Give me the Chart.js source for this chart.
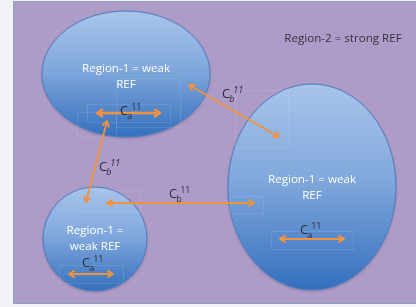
<!DOCTYPE html>
<html>
<head>
<meta charset="utf-8">
<script src="https://cdn.jsdelivr.net/npm/chart.js@4.4.1/dist/chart.umd.min.js"></script>
<style>
	html, body { margin: 0; padding: 0; background: #f1f2f5; }
	#wrap { width: 416px; height: 307px; position: relative; }
</style>
</head>
<body>
<div id="wrap"><canvas id="c"></canvas></div>
<script>
// diagram coordinates: x 0..416, y 0..307 (top-down)
const regionLines = [['Region-1 = weak', 'REF'], ['Region-1 = weak', 'REF'], ['Region-1 =', 'weak REF']];
const regionX = [126, 312, 95];
const regionY = [74, 187, 239];
const regionRx = [84, 84, 52];
const regionRy = [63, 103, 52];
const regionTextY = [69, 180, 231];

const arrowFrom = [[189, 85], [107, 121], [107, 203], [97, 113], [280, 239], [69, 274]];
const arrowTo = [[279, 137], [86, 202], [254, 203], [160, 113], [344, 239], [113, 274]];

const labelSub = ['b', 'b', 'b', 'a', 'a', 'a'];
const labelSup = ['11', '11', '11', '11', '11', '11'];
const labelItalic = [true, true, false, false, false, false];
const labelX = [222, 99, 169, 120, 300, 82];
const labelY = [94, 167, 194, 111, 230, 263];

// faint text-box outlines left over in the slide
const boxes = [[87, 104, 170, 122], [77, 112, 116, 137], [116, 78, 180, 127], [235, 90, 288, 147],
	[230, 196, 263, 213], [271, 231, 353, 249], [77, 190, 140, 212], [59, 265, 123, 283]];

const title = 'Region-2 = strong REF';
const titleX = 343, titleY = 39;

const ORANGE = '#f2923c';
const FONT = '"Open Sans", "Noto Sans", sans-serif';

const diagram = {
	id: 'diagram',
	beforeDatasetsDraw(chart) {
		const { ctx, scales: { x, y } } = chart;
		const px = v => x.getPixelForValue(v), py = v => y.getPixelForValue(v);
		ctx.save();
		// purple slide panel
		ctx.fillStyle = '#ad9cc7';
		ctx.fillRect(px(13.5), py(1.5), px(416) - px(13.5), py(303.5) - py(1.5));
		ctx.strokeStyle = '#8d9fc6';
		ctx.lineWidth = 1;
		ctx.strokeRect(px(13.5), py(1.5), px(417) - px(13.5), py(303.5) - py(1.5));
		// regions
		regionX.forEach((cx, i) => {
			const top = py(regionY[i] - regionRy[i]), bot = py(regionY[i] + regionRy[i]);
			const g = ctx.createLinearGradient(0, top, 0, bot);
			g.addColorStop(0, '#a8c4ea');
			g.addColorStop(0.45, '#82a9dd');
			g.addColorStop(1, '#3470bd');
			ctx.beginPath();
			ctx.ellipse(px(cx), py(regionY[i]), px(regionRx[i]) - px(0), py(regionRy[i]) - py(0), 0, 0, Math.PI * 2);
			ctx.shadowColor = 'rgba(40,30,80,0.35)';
			ctx.shadowBlur = 3;
			ctx.shadowOffsetY = 1;
			ctx.fillStyle = g;
			ctx.fill();
			ctx.shadowColor = 'transparent';
			ctx.strokeStyle = '#4f7fc0';
			ctx.lineWidth = 1;
			ctx.stroke();
		});
		// faint boxes
		ctx.strokeStyle = 'rgba(225,230,245,0.13)';
		ctx.lineWidth = 1;
		boxes.forEach(b => ctx.strokeRect(px(b[0]) + 0.5, py(b[1]) + 0.5, px(b[2]) - px(b[0]), py(b[3]) - py(b[1])));
		// region texts
		ctx.fillStyle = '#ffffff';
		ctx.textAlign = 'center';
		ctx.textBaseline = 'middle';
		ctx.font = `11.6px ${FONT}`;
		regionLines.forEach((lines, i) => {
			lines.forEach((t, j) => ctx.fillText(t, px(regionX[i]), py(regionTextY[i] + j * 16)));
		});
		ctx.fillStyle = '#333340';
		ctx.fillText(title, px(titleX), py(titleY));
		ctx.restore();
	},
	afterDatasetsDraw(chart) {
		const { ctx, scales: { x, y } } = chart;
		const px = v => x.getPixelForValue(v), py = v => y.getPixelForValue(v);
		ctx.save();
		// arrow heads at both ends
		arrowFrom.forEach((a, i) => {
			const b = arrowTo[i];
			const w = chart.data.datasets[i].borderWidth;
			[[a, b], [b, a]].forEach(([tip, tail]) => {
				const ang = Math.atan2(py(tail[1]) - py(tip[1]), px(tail[0]) - px(tip[0]));
				const len = 6;
				ctx.beginPath();
				ctx.moveTo(px(tip[0]) + len * Math.cos(ang - 0.55), py(tip[1]) + len * Math.sin(ang - 0.55));
				ctx.lineTo(px(tip[0]), py(tip[1]));
				ctx.lineTo(px(tip[0]) + len * Math.cos(ang + 0.55), py(tip[1]) + len * Math.sin(ang + 0.55));
				ctx.strokeStyle = ORANGE;
				ctx.lineWidth = w;
				ctx.lineCap = 'round';
				ctx.lineJoin = 'round';
				ctx.stroke();
			});
		});
		// C labels
		ctx.fillStyle = '#2b2b3c';
		ctx.textAlign = 'left';
		ctx.textBaseline = 'middle';
		labelX.forEach((lx, i) => {
			const it = labelItalic[i] ? 'italic ' : '';
			ctx.font = `13px ${FONT}`;
			ctx.fillText('C', px(lx), py(labelY[i]));
			const cw = ctx.measureText('C').width;
			ctx.font = `${it}9px ${FONT}`;
			ctx.fillText(labelSub[i], px(lx) + cw - 1, py(labelY[i] + 5));
			ctx.fillText(labelSup[i], px(lx) + cw + 3, py(labelY[i] - 4));
		});
		ctx.restore();
	},
};

new Chart(document.getElementById('c'), {
	type: 'scatter',
	data: {
		datasets: arrowFrom.map((a, i) => ({
			data: [{ x: a[0], y: a[1] }, { x: arrowTo[i][0], y: arrowTo[i][1] }],
			showLine: true,
			borderColor: ORANGE,
			borderWidth: i === 3 ? 2.5 : 1.8,
			pointRadius: 0,
		})),
	},
	options: {
		responsive: true,
		maintainAspectRatio: false,
		animation: false,
		layout: { padding: 0 },
		scales: {
			x: { type: 'linear', min: 0, max: 416, display: false },
			y: { type: 'linear', min: 0, max: 307, reverse: true, display: false },
		},
		plugins: { legend: { display: false }, tooltip: { enabled: false } },
	},
	plugins: [diagram],
});
</script>
</body>
</html>
